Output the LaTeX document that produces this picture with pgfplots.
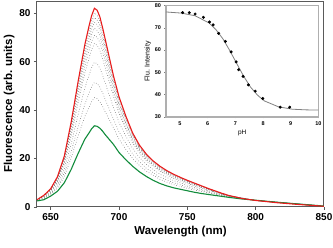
\documentclass[border=0pt]{standalone}
\usepackage{pgfplots}
\pgfplotsset{compat=1.18}
\usepackage{pgfplotstable}
\usepackage{fontspec}
\setmainfont{Liberation Sans}
\definecolor{myred}{RGB}{232,28,28}
\definecolor{mygreen}{RGB}{18,140,60}
\definecolor{frame}{RGB}{90,90,90}
\definecolor{inframe}{RGB}{175,175,175}

\pgfplotstableread{
l d1 d2 d3 d4 d5 d6 d7 d8 d9
640 3.0 3.0 2.9 2.9 2.9 2.9 2.8 2.7 2.6
645 4.7 4.7 4.6 4.5 4.4 4.3 4.0 3.7 3.4
650 7.4 7.3 7.1 7.0 6.8 6.6 6.1 5.6 5.2
655 11.8 11.6 11.3 11.1 10.7 10.4 9.5 8.5 7.8
660 20.6 20.1 19.7 19.1 18.5 17.7 15.9 14.1 12.6
665 34.2 33.4 32.7 31.7 30.5 29.2 26.0 22.7 20.2
670 50.3 49.1 48.0 46.5 44.7 42.7 37.9 32.9 29.1
675 65.4 63.9 62.3 60.4 58.0 55.3 49.1 42.4 37.4
678 72.7 71.0 69.2 67.0 64.4 61.3 54.3 46.8 41.1
680 77.1 75.3 73.4 71.1 68.3 65.0 57.5 49.6 43.5
682 80.1 78.1 76.2 73.8 70.8 67.5 59.7 51.4 45.1
684 79.1 77.2 75.3 72.9 70.0 66.7 59.1 50.9 44.7
686 76.7 74.8 73.0 70.7 67.9 64.7 57.3 49.5 43.5
688 72.3 70.6 68.9 66.7 64.2 61.2 54.4 47.1 41.5
690 67.4 65.9 64.3 62.3 60.0 57.2 51.0 44.3 39.2
693 60.2 58.8 57.5 55.8 53.8 51.4 46.0 40.3 35.9
696 52.9 51.7 50.6 49.2 47.5 45.5 41.0 36.2 32.6
700 44.6 43.7 42.7 41.6 40.2 38.6 34.9 31.0 28.0
705 36.8 36.1 35.3 34.4 33.4 32.1 29.2 26.2 23.8
710 30.0 29.4 28.9 28.2 27.4 26.4 24.2 21.9 20.1
715 25.1 24.6 24.2 23.6 23.0 22.2 20.4 18.6 17.1
720 21.4 21.1 20.7 20.2 19.7 19.0 17.6 16.0 14.8
730 16.5 16.2 16.0 15.6 15.2 14.7 13.5 12.3 11.4
740 13.3 13.1 12.8 12.6 12.2 11.8 10.9 10.0 9.2
750 10.8 10.7 10.5 10.3 10.0 9.7 9.0 8.3 7.7
760 8.7 8.5 8.4 8.3 8.1 7.8 7.3 6.8 6.4
770 6.6 6.5 6.5 6.4 6.3 6.1 5.8 5.5 5.3
780 4.8 4.7 4.7 4.7 4.6 4.6 4.4 4.3 4.2
800 2.7 2.7 2.7 2.7 2.7 2.7 2.7 2.7 2.7
850 0.3 0.3 0.3 0.3 0.3 0.3 0.3 0.4 0.4
}\dotted

\pgfplotstableread{
l R G
640 3.0 2.5
645 4.8 3.0
650 7.5 4.5
655 12.5 6.5
660 21.0 10.0
665 35.0 15.5
670 51.5 22.0
675 67.0 28.0
678 74.5 30.5
680 79.0 32.3
682 82.0 33.5
684 81.2 33.3
686 78.5 32.5
688 74.0 31.3
690 69.0 29.8
693 61.5 27.8
696 54.0 25.8
700 45.5 22.5
705 37.5 19.5
710 30.5 16.8
715 25.5 14.5
720 21.8 12.6
725 19.0 11.0
730 16.8 9.7
735 15.0 8.7
740 13.5 7.9
745 12.2 7.3
750 11.0 6.7
755 9.9 6.1
760 8.8 5.6
765 7.7 5.2
770 6.7 4.8
775 5.7 4.4
780 4.8 4.0
790 3.5 3.3
800 2.7 2.8
815 1.8 2.0
830 1.1 1.3
850 0.3 0.4
}\spectra

\pgfplotstableread{
ph f
5.10 76.8
5.34 76.8
5.55 76.2
5.85 74.7
6.07 72.6
6.20 71.3
6.40 67.5
6.64 63.9
6.85 59.2
7.03 54.7
7.12 51.2
7.28 48.2
7.47 44.4
7.72 41.6
7.99 38.3
8.62 34.4
8.96 34.4
}\titr

\pgfplotstableread{
ph f
4.50 77.1
5.05 76.6
5.55 75.4
6.05 72.2
6.30 69.2
6.55 65.1
6.80 59.8
7.05 54.0
7.30 48.3
7.55 43.4
7.80 39.8
8.05 37.2
8.55 34.6
9.05 33.5
9.55 33.2
10.00 33.1
}\fit

\begin{document}
\begin{tikzpicture}
\begin{axis}[
  name=main,
  at={(0pt,0pt)}, anchor=south west,
  scale only axis, width=287pt, height=206pt,
  xmin=640, xmax=850, ymin=0, ymax=85,
  xtick={650,700,...,850}, ytick={0,20,...,80},
  tick align=outside, tick pos=left,
  major tick length=3pt,
  axis line style={draw=frame, line width=1pt},
  tick style={draw=frame, line width=0.8pt},
  every tick label/.append style={font=\fontsize{10}{10}\selectfont\bfseries},
  /pgf/number format/assume math mode=true,
  /pgf/number format/1000 sep={},
  xlabel={Wavelength (nm)}, ylabel={Fluorescence (arb. units)},
  label style={font=\fontsize{11.5}{12}\selectfont\bfseries},
  xlabel style={yshift=1pt},
  ylabel style={yshift=-2pt},
  clip=true,
]
\foreach \c in {d9,d8,d7,d6,d5,d4,d3,d2,d1}{
  \addplot[gray!75!black, dotted, line width=0.55pt] table[x=l, y=\c] {\dotted};
}
\addplot[mygreen, line width=1.1pt] table[x=l, y=G] {\spectra};
\addplot[myred, line width=1.1pt] table[x=l, y=R] {\spectra};
\end{axis}

\begin{axis}[
  at={(129pt,90pt)}, anchor=south west,
  scale only axis, width=152.5pt, height=111.5pt,
  xmin=4.5, xmax=10, ymin=30, ymax=80,
  xtick={5,...,10}, ytick={30,40,...,80},
  tick align=outside, tick pos=left,
  major tick length=1.5pt,
  axis background/.style={fill=white},
  axis line style={draw=inframe, line width=1.2pt},
  tick style={draw=gray, line width=0.5pt},
  every tick label/.append style={font=\fontsize{5.5}{6}\selectfont\bfseries},
  /pgf/number format/assume math mode=true,
  xlabel={pH}, ylabel={Flu. Intensity},
  xlabel style={font=\fontsize{6.5}{7}\selectfont, yshift=3pt},
  ylabel style={font=\fontsize{7}{8}\selectfont, yshift=-3pt},
]
\addplot[gray, line width=0.8pt] table[x=ph, y=f] {\fit};
\addplot[only marks, mark=*, mark size=1.3pt, black] table[x=ph, y=f] {\titr};
\end{axis}
\pgfresetboundingbox
\path[use as bounding box] (-37pt,-41pt) rectangle (296pt,207pt);
\end{tikzpicture}
\end{document}
